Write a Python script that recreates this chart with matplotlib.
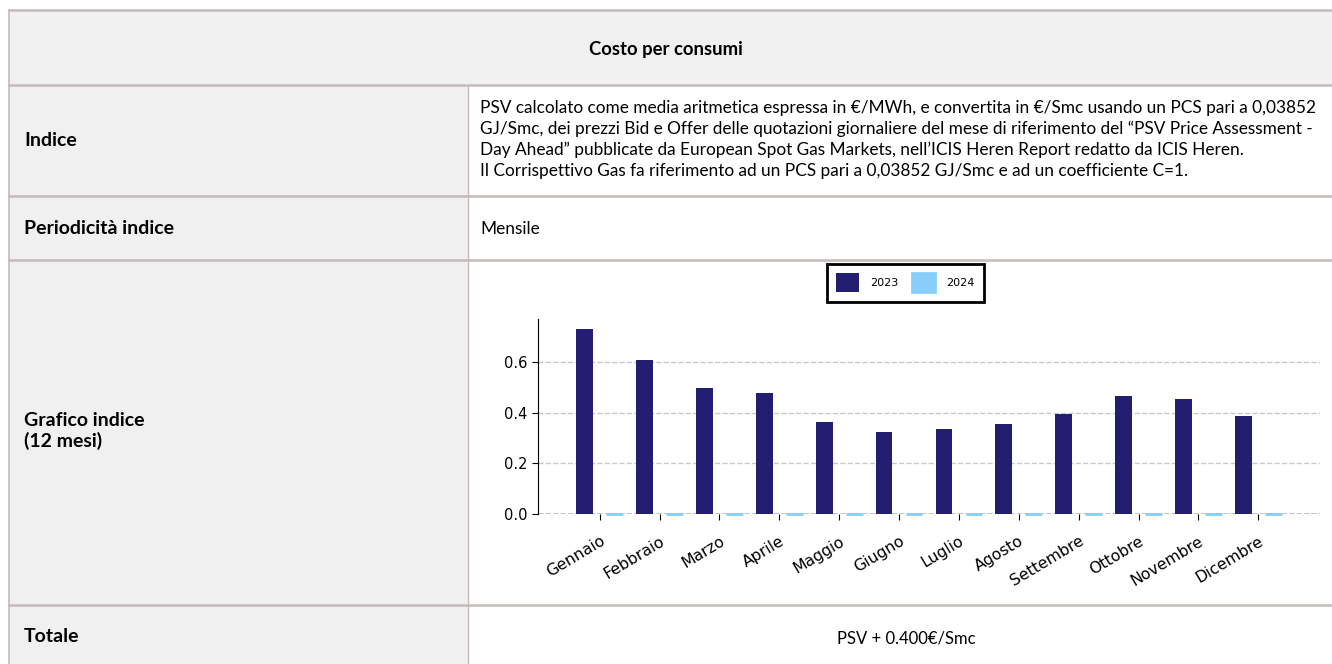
import numpy as np
import matplotlib
matplotlib.use("Agg")
from matplotlib import pyplot as plt
from matplotlib.patches import Rectangle

# chart data
mesi = ['Gennaio', 'Febbraio', 'Marzo', 'Aprile', 'Maggio', 'Giugno',
        'Luglio', 'Agosto', 'Settembre', 'Ottobre', 'Novembre', 'Dicembre']
psv_2023 = [0.730, 0.608, 0.497, 0.478, 0.363, 0.324,
            0.336, 0.355, 0.395, 0.466, 0.454, 0.387]
psv_2024 = [0, 0, 0, 0, 0, 0, 0, 0, 0, 0, 0, 0]
anni = ['2023', '2024']

titolo = 'Costo per consumi'
righe = ['Indice', 'Periodicità indice', 'Grafico indice\n(12 mesi)', 'Totale']
descrizione = [
    'PSV calcolato come media aritmetica espressa in €/MWh, e convertita in €/Smc usando un PCS pari a 0,03852',
    'GJ/Smc, dei prezzi Bid e Offer delle quotazioni giornaliere del mese di riferimento del “PSV Price Assessment -',
    'Day Ahead” pubblicate da European Spot Gas Markets, nell’ICIS Heren Report redatto da ICIS Heren.',
    'Il Corrispettivo Gas fa riferimento ad un PCS pari a 0,03852 GJ/Smc e ad un coefficiente C=1.',
]
periodicita = 'Mensile'
totale = 'PSV + 0.400€/Smc'

W, H = 1332, 664
fig = plt.figure(figsize=(W / 100, H / 100), dpi=100)

# table drawn in pixel coordinates
bg = fig.add_axes([0, 0, 1, 1])
bg.set_xlim(0, W)
bg.set_ylim(H, 0)
bg.axis('off')

grey = '#f1f0f0'
border = '#c6babb'
col = 468
rows = [10, 85, 196, 260, 605, 700]

bg.add_patch(Rectangle((9, 10), W, 75, color=grey, zorder=0))
bg.add_patch(Rectangle((9, 85), col - 9, H, color=grey, zorder=0))
for y in rows[:-1]:
    bg.plot([9, W], [y, y], color=border, lw=1.8, zorder=1)
bg.plot([9, 9], [10, H], color=border, lw=1.2, zorder=1)
bg.plot([col, col], [85, H], color=border, lw=1.0, zorder=1)

font = 'Lato'
bg.text(666, 49, titolo, ha='center', va='center', fontsize=13.3,
        fontweight='bold', family=font)
label_y = [141, 229, 431, 637]
for lab, y in zip(righe, label_y):
    bg.text(24, y, lab, ha='left', va='center', fontsize=14,
            fontweight='bold', family=font, linespacing=1.15)

for i, riga in enumerate(descrizione):
    bg.text(480, 108 + i * 21, riga, ha='left', va='center',
            fontsize=12.45, family=font)
bg.text(480, 229, periodicita, ha='left', va='center', fontsize=12.45, family=font)
bg.text(906, 638, totale, ha='center', va='center', fontsize=12, family=font)

# bar chart
ax = fig.add_axes([538 / W, 1 - 514 / H, (1320 - 538) / W, (514 - 319) / H])
x = np.arange(len(mesi))
ax.bar(x - 0.25, psv_2023, width=0.28, color='#241e72', label=anni[0], zorder=3)
bars24 = ax.bar(x + 0.25, psv_2024, width=0.28, color='#87cefa', edgecolor='#87cefa',
                linewidth=2, label=anni[1], zorder=4)
for b in bars24:
    b.set_clip_on(False)
ax.axhline(0, color='black', ls='--', lw=1, zorder=2)
ax.set_ylim(0, 0.77)
ax.set_xlim(-1.03, 12.03)
ax.set_yticks([0, 0.2, 0.4, 0.6])
ax.set_yticklabels(['0.0', '0.2', '0.4', '0.6'], fontsize=10.5)
ax.set_xticks(x)
ax.set_xticklabels(mesi, rotation=31, ha='right', rotation_mode='anchor', fontsize=11.3)
ax.grid(axis='y', color='#c8c8c8', ls='--', lw=1, zorder=0)
for s in ['top', 'right', 'bottom']:
    ax.spines[s].set_visible(False)
ax.tick_params(length=4)
ax.tick_params(axis='x', pad=10)

leg = ax.legend(loc='upper left', bbox_to_anchor=(827 / W, 1 - 264 / H),
                bbox_transform=fig.transFigure, borderaxespad=0, ncol=2,
                fontsize=8, handlelength=2, handleheight=2.2, handletextpad=1.0,
                columnspacing=1.3, borderpad=0.85, fancybox=False, framealpha=1)
leg.get_frame().set_edgecolor('black')
leg.get_frame().set_linewidth(2)

fig.savefig('out.png', dpi=100)
